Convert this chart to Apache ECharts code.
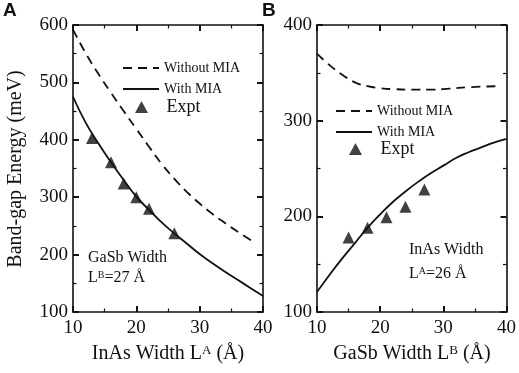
<!DOCTYPE html>
<html>
<head>
<meta charset="utf-8">
<script src="https://cdn.jsdelivr.net/npm/echarts@6/dist/echarts.min.js"></script>
<style>
  html, body { margin: 0; padding: 0; background: #fff; }
  #main { width: 519px; height: 373px; }
</style>
</head>
<body>
<div id="main"></div>
<script>
// panel A: L_B = 27 Å, InAs width varies
const aNoMiaX = [10, 12, 14, 16, 18, 20, 22, 24, 26, 28, 30, 32, 34, 36, 38.4];
const aNoMiaY = [592, 551, 515, 482, 450, 419, 388, 358, 332, 309, 289, 271, 255, 240, 223];
const aMiaX = [10, 12, 14, 16, 18, 20, 22, 24, 26, 28, 30, 32, 34, 36, 38, 40];
const aMiaY = [475, 430, 394, 361, 330, 301, 278, 256, 237, 219, 201, 185, 170, 156, 142, 128];
const aExptX = [13, 16, 18, 20, 22, 26];
const aExptY = [403, 361, 324, 300, 280, 237];

// panel B: L_A = 26 Å, GaSb width varies
const bNoMiaX = [10, 12, 14, 16, 18, 20, 22, 25, 28, 31, 34, 38.4];
const bNoMiaY = [370, 358, 348, 340, 336, 334, 333, 332.5, 332.5, 333.5, 335, 336];
const bMiaX = [10, 12, 14, 16, 18, 20, 22, 24, 26, 28, 30, 32, 34, 36, 38, 40];
const bMiaY = [121, 139, 156, 172, 188, 202, 215, 226, 236, 245, 253, 261, 267, 272, 277, 281];
const bExptX = [15, 18, 21, 24, 27];
const bExptY = [178, 188, 199, 210, 228];

const xTicks = [10, 40, 10];          // min, max, interval
const aYTicks = [100, 600, 100];
const bYTicks = [100, 400, 100];

const pairs = (xs, ys) => xs.map((x, i) => [x, ys[i]]);

const serif = 'Liberation Serif';
const black = '#111';

const grids = [
  { left: 73, top: 25, width: 190, height: 287 },
  { left: 317, top: 25, width: 190, height: 287 }
];

function axisFor(gridIndex, pos, ticks) {
  const labelled = pos === 'bottom' || pos === 'left';
  return {
    type: 'value', gridIndex: gridIndex, position: pos,
    min: ticks[0], max: ticks[1], interval: ticks[2],
    axisLine: { show: true, onZero: false, lineStyle: { color: black, width: 1.6 } },
    axisTick: { show: true, inside: true, length: 6, lineStyle: { color: black, width: 2 } },
    minorTick: { show: true, splitNumber: 2, length: 3.5, lineStyle: { color: black, width: 1.2 } },
    splitLine: { show: true, lineStyle: { color: '#fff', opacity: 0 } },
    axisLabel: labelled
      ? { show: true, margin: pos === 'bottom' ? 7 : 5, fontFamily: serif, fontSize: 19, color: black }
      : { show: false }
  };
}

function seriesFor(k, noMia, mia, expt) {
  return [
    {
      name: 'Without MIA', type: 'line', xAxisIndex: k * 2, yAxisIndex: k * 2,
      data: noMia, smooth: true, symbol: 'none',
      lineStyle: { color: black, width: 1.8, type: [9, 6] }, itemStyle: { color: black }
    },
    {
      name: 'With MIA', type: 'line', xAxisIndex: k * 2, yAxisIndex: k * 2,
      data: mia, smooth: true, symbol: 'none',
      lineStyle: { color: black, width: 1.8 }, itemStyle: { color: black }
    },
    {
      name: 'Expt', type: 'scatter', xAxisIndex: k * 2, yAxisIndex: k * 2,
      data: expt, symbol: 'triangle', symbolSize: 12,
      itemStyle: { color: black }
    }
  ];
}

// two line entries with a long sample, then the triangle entry on its own
function lineLegend(left, top) {
  return {
    left: left, top: top, orient: 'vertical',
    itemWidth: 36, itemHeight: 10, itemGap: 7,
    selectedMode: false,
    textStyle: { fontFamily: serif, fontSize: 14, color: black },
    data: [
      { name: 'Without MIA', itemStyle: { opacity: 0 } },
      { name: 'With MIA', itemStyle: { opacity: 0 } }
    ]
  };
}
function exptLegend(left, top) {
  return {
    left: left, top: top,
    itemWidth: 13, itemHeight: 12,
    selectedMode: false,
    formatter: '   {name}',
    textStyle: { fontFamily: serif, fontSize: 18, color: black },
    data: ['Expt']
  };
}

// subscript made by giving the small token a taller, top-aligned line box
function note(left, top, line1, firstLineHeight, sub, rest) {
  return {
    type: 'text', left: left, top: top,
    style: {
      text: '{h|' + line1 + '}\n{m|L}{s|' + sub + '}{m|' + rest + '}',
      rich: {
        h: { fontFamily: serif, fontSize: 16, fill: black, lineHeight: firstLineHeight },
        m: { fontFamily: serif, fontSize: 16, fill: black, lineHeight: 16, verticalAlign: 'top' },
        s: { fontFamily: serif, fontSize: 10, fill: black, lineHeight: 26, verticalAlign: 'top' }
      }
    }
  };
}

function xTitle(cx, sub) {
  const head = cx < 260 ? 'InAs Width L' : 'GaSb Width L';
  return {
    type: 'text', x: cx, y: 344,
    style: {
      text: '{m|' + head + '}{s|' + sub + '}{m| (Å)}',
      align: 'center', verticalAlign: 'top',
      rich: {
        m: { fontFamily: serif, fontSize: 20, fill: black, lineHeight: 20, verticalAlign: 'top' },
        s: { fontFamily: serif, fontSize: 13, fill: black, lineHeight: 34, verticalAlign: 'top' }
      }
    }
  };
}

const chart = echarts.init(document.getElementById('main'));
chart.setOption({
  animation: false,
  backgroundColor: '#fff',
  grid: grids,
  xAxis: [
    axisFor(0, 'bottom', xTicks),
    axisFor(0, 'top', xTicks),
    axisFor(1, 'bottom', xTicks),
    axisFor(1, 'top', xTicks)
  ],
  yAxis: [
    axisFor(0, 'left', aYTicks),
    axisFor(0, 'right', aYTicks),
    axisFor(1, 'left', bYTicks),
    axisFor(1, 'right', bYTicks)
  ],
  legend: [
    lineLegend(117, 56), exptLegend(130, 93),
    lineLegend(330, 99), exptLegend(344, 135)
  ],
  series: [
    ...seriesFor(0, pairs(aNoMiaX, aNoMiaY), pairs(aMiaX, aMiaY), pairs(aExptX, aExptY)),
    ...seriesFor(1, pairs(bNoMiaX, bNoMiaY), pairs(bMiaX, bMiaY), pairs(bExptX, bExptY))
  ],
  graphic: [
    { type: 'text', left: 3, top: 1, style: { text: 'A', font: 'bold 19px Liberation Sans', fill: black } },
    { type: 'text', left: 262, top: 1, style: { text: 'B', font: 'bold 19px Liberation Sans', fill: black } },
    {
      type: 'text', x: 16, y: 169, rotation: Math.PI / 2,
      style: {
        text: 'Band-gap Energy (meV)', font: '20px ' + serif, fill: black,
        align: 'center', verticalAlign: 'middle'
      }
    },
    xTitle(168, 'A'),
    xTitle(412, 'B'),
    note(88, 250, 'GaSb Width', 24, 'B', '=27 Å'),
    note(409, 242, 'InAs Width', 32, 'A', '=26 Å')
  ]
});
</script>
</body>
</html>
